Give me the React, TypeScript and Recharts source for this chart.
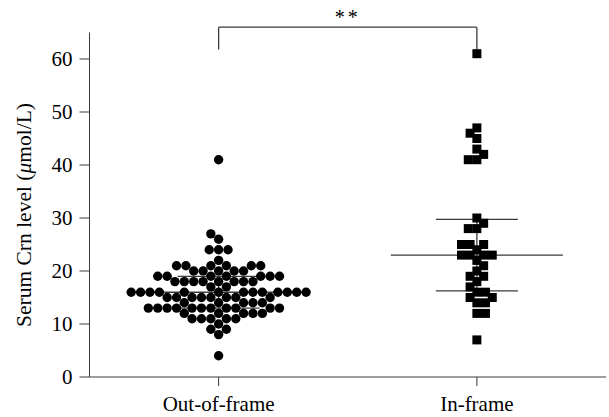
import React from "react";
import { ScatterChart, Scatter, XAxis, YAxis, ReferenceLine } from "recharts";

const categories = ["Out-of-frame", "In-frame"];

// Serum Crn level (µmol/L)
const outOfFrame = [
  4, 8, 9, 9, 10,
  11, 11, 11, 11, 11,
  12, 12, 12, 12, 12,
  13, 13, 13, 13, 13, 13, 13, 13, 13, 13, 13,
  14, 14, 14, 14, 14,
  15, 15, 15, 15, 15, 15, 15, 15,
  16, 16, 16, 16, 16, 16, 16, 16, 16, 16, 16, 16, 16,
  17, 17,
  18, 18, 18, 18, 18, 18, 18, 18,
  19, 19, 19, 19, 19, 19, 19,
  20, 20, 20, 20, 20,
  21, 21, 21, 21, 21, 21,
  22, 24, 24, 24, 26, 27, 41,
];

const inFrame = [
  7, 12, 12, 14, 14, 15, 15, 16, 16, 17, 18, 19, 19, 20, 21, 22,
  23, 23, 23, 23, 24, 25, 25, 25, 28, 28, 29, 30,
  41, 41, 42, 43, 45, 46, 47, 61,
];

const yTicks = [0, 10, 20, 30, 40, 50, 60];

const W = 609;
const H = 417;
const MARGIN = { top: 32.5, right: 3, bottom: 0, left: 0 };
const Y_AXIS_W = 89.5;
const X_AXIS_H = 40;
const X_DOMAIN: [number, number] = [0.5, 2.5];
const Y_DOMAIN: [number, number] = [0, 65];
const plotW = W - MARGIN.left - MARGIN.right - Y_AXIS_W;
const plotH = H - MARGIN.top - MARGIN.bottom - X_AXIS_H;
const pxPerX = plotW / (X_DOMAIN[1] - X_DOMAIN[0]);
const pxPerY = plotH / (Y_DOMAIN[1] - Y_DOMAIN[0]);

const FONT = "'Liberation Serif', 'Times New Roman', serif";
const FS = 21;
const LINE = "#3a3a3a";

// greedy beeswarm: each point goes as close to the centre as it can without overlap
function swarm(values: number[], diameter: number) {
  const placed: { x: number; y: number }[] = [];
  const sorted = [...values].sort((a, b) => a - b);
  return sorted.map((v, i) => {
    const y = v * pxPerY;
    const near = placed.filter((p) => Math.abs(p.y - y) < diameter);
    const cands = [0];
    near.forEach((p) => {
      const dx = Math.sqrt(diameter * diameter - (p.y - y) ** 2);
      cands.push(p.x - dx, p.x + dx);
    });
    const ok = cands.filter((c) =>
      near.every((p) => (p.x - c) ** 2 + (p.y - y) ** 2 >= diameter * diameter - 1e-6)
    );
    ok.sort((a, b) => Math.abs(a) - Math.abs(b) || (i % 2 ? a - b : b - a));
    const x = ok[0];
    placed.push({ x, y });
    return { dx: x, value: v };
  });
}

function quantile(values: number[], p: number) {
  const s = [...values].sort((a, b) => a - b);
  const pos = (s.length + 1) * p;
  const lo = Math.floor(pos);
  const frac = pos - lo;
  const a = s[Math.max(0, lo - 1)];
  const b = s[Math.min(s.length - 1, lo)];
  return a + frac * (b - a);
}

const groups = [outOfFrame, inFrame].map((vals, gi) => {
  const center = gi + 1;
  const pts = swarm(vals, gi === 0 ? 9.4 : 8.6).map((p) => ({ x: center + p.dx / pxPerX, y: p.value }));
  return {
    center,
    pts,
    q1: quantile(vals, 0.25),
    med: quantile(vals, 0.5),
    q3: quantile(vals, 0.75),
  };
});

const MED_HALF = 86 / pxPerX;
const Q_HALF = 41 / pxPerX;
const BRACKET_TOP = 66.0;
const BRACKET_LEG = 61.8;

const Dot = (props: any) => <circle cx={props.cx} cy={props.cy} r={4.7} fill="#000" />;
const Square = (props: any) => (
  <rect x={props.cx - 4.5} y={props.cy - 4.5} width={9} height={9} fill="#000" />
);

const YLabel = () => (
  <text
    x={24}
    y={215}
    transform="rotate(-90 24 215)"
    textAnchor="middle"
    dominantBaseline="central"
    fontFamily={FONT}
    fontSize={21.5}
    fill="#000"
  >
    Serum Crn level (<tspan fontStyle="italic">μ</tspan>mol/L)
  </text>
);

export default function App() {
  return (
    <div style={{ position: "absolute", left: 0, top: 0, width: W, height: H, background: "#fff" }}>
      <ScatterChart width={W} height={H} margin={MARGIN}>
        <XAxis
          type="number"
          dataKey="x"
          domain={X_DOMAIN}
          ticks={[1, 2]}
          tickFormatter={(v: number) => categories[v - 1]}
          height={X_AXIS_H}
          tickSize={9}
          tickMargin={10}
          stroke={LINE}
          tick={{ fill: "#000", fontFamily: FONT, fontSize: FS }}
          allowDataOverflow
        />
        <YAxis
          type="number"
          dataKey="y"
          domain={Y_DOMAIN}
          ticks={yTicks}
          width={Y_AXIS_W}
          tickSize={10}
          tickMargin={7}
          stroke={LINE}
          tick={{ fill: "#000", fontFamily: FONT, fontSize: FS }}
          label={<YLabel />}
          allowDataOverflow
        />
        {groups.map((g) => (
          <React.Fragment key={g.center}>
            <ReferenceLine
              segment={[{ x: g.center - MED_HALF, y: g.med }, { x: g.center + MED_HALF, y: g.med }]}
              stroke={LINE}
              strokeWidth={1.4}
            />
            <ReferenceLine
              segment={[{ x: g.center - Q_HALF, y: g.q1 }, { x: g.center + Q_HALF, y: g.q1 }]}
              stroke={LINE}
              strokeWidth={1.3}
            />
            <ReferenceLine
              segment={[{ x: g.center - Q_HALF, y: g.q3 }, { x: g.center + Q_HALF, y: g.q3 }]}
              stroke={LINE}
              strokeWidth={1.3}
            />
            <ReferenceLine
              segment={[{ x: g.center, y: g.q1 }, { x: g.center, y: g.q3 }]}
              stroke={LINE}
              strokeWidth={1.3}
            />
          </React.Fragment>
        ))}
        <Scatter data={groups[0].pts} shape={Dot} isAnimationActive={false} />
        <Scatter data={groups[1].pts} shape={Square} isAnimationActive={false} />
        <ReferenceLine
          segment={[{ x: 1, y: BRACKET_TOP }, { x: 2, y: BRACKET_TOP }]}
          stroke={LINE}
          strokeWidth={1.3}
          ifOverflow="visible"
          label={{ value: "**", position: "top", fill: "#000", fontFamily: FONT, fontSize: 20, letterSpacing: 3, offset: 3 }}
        />
        <ReferenceLine
          segment={[{ x: 1, y: BRACKET_TOP }, { x: 1, y: BRACKET_LEG }]}
          stroke={LINE}
          strokeWidth={1.3}
          ifOverflow="visible"
        />
        <ReferenceLine
          segment={[{ x: 2, y: BRACKET_TOP }, { x: 2, y: BRACKET_LEG }]}
          stroke={LINE}
          strokeWidth={1.3}
          ifOverflow="visible"
        />
      </ScatterChart>
    </div>
  );
}
